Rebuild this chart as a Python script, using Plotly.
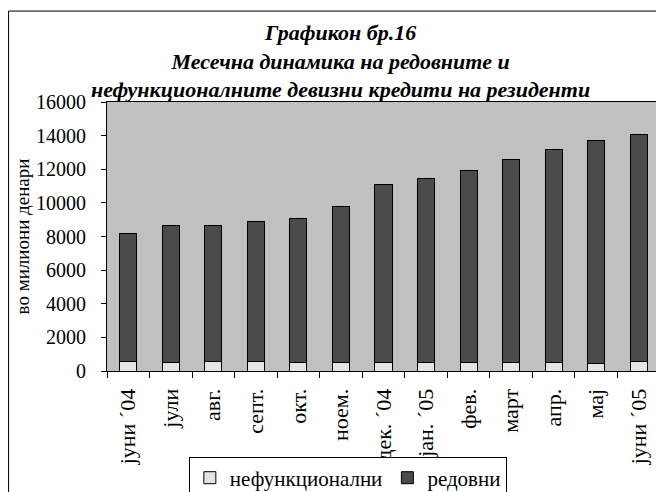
import plotly.graph_objects as go

# months (Macedonian labels as on the original chart)
months = ["јуни ´04", "јули", "авг.", "септ.", "окт.", "ноем.", "дек. ´04",
          "јан. ´05", "фев.", "март", "апр.", "мај", "јуни ´05"]

# millions of denars
nefunkcionalni = [540, 530, 540, 540, 530, 530, 520, 520, 530, 530, 530, 430, 540]
redovni = [7650, 8120, 8110, 8360, 8570, 9260, 10600, 10950, 11400, 12030, 12670, 13300, 13550]

title_text = ("Графикон бр.16<br>"
              "Месечна динамика на редовните и<br>"
              "нефункционалните девизни кредити на резиденти")
y_title = "во милиони денари"

serif = "Times New Roman, Liberation Serif, serif"

fig = go.Figure()
fig.add_trace(go.Bar(x=months, y=nefunkcionalni, name="нефункционални",
                     marker=dict(color="#E4E4E4", line=dict(color="black", width=1))))
fig.add_trace(go.Bar(x=months, y=redovni, name="редовни",
                     marker=dict(color="#4B4B4B", line=dict(color="black", width=1))))

# page body has an 8px margin, so the figure is 8px smaller than the window
fig.update_layout(
    width=656, height=484,
    margin=dict(l=99, r=4, t=94, b=121, autoexpand=False),
    barmode="stack", bargap=0.6,
    paper_bgcolor="white", plot_bgcolor="#C0C0C0",
    font=dict(family=serif, size=20, color="black"),
    legend=dict(orientation="h", traceorder="normal",
                x=0.148, xanchor="left", y=-0.318, yanchor="top",
                bordercolor="black", borderwidth=1, bgcolor="white",
                font=dict(size=21), itemwidth=30),
    showlegend=True,
)

# chart title, centred a bit right of the plot centre like the original
fig.add_annotation(text=title_text, xref="paper", yref="paper",
                   x=0.423, y=1.152, xanchor="center", yanchor="middle",
                   showarrow=False, align="center",
                   font=dict(family=serif, size=22, style="italic", weight="bold"))

# value axis title, placed by hand (plotly leaves too big a gap)
fig.add_annotation(text=y_title, xref="paper", yref="paper",
                   x=-0.152, y=0.5, xanchor="center", yanchor="middle",
                   textangle=-90, showarrow=False, font=dict(family=serif, size=19))

fig.update_xaxes(type="category", tickson="boundaries", ticks="outside", ticklen=6,
                 tickcolor="black", tickangle=-90, showline=True, linecolor="black",
                 mirror=True, showgrid=False, tickfont=dict(size=22), ticklabelstandoff=8)
fig.update_yaxes(range=[0, 16000], dtick=2000, tickformat="d", ticks="outside", ticklen=5,
                 tickcolor="black", showline=True, linecolor="black", mirror=True,
                 showgrid=False, zeroline=False, tickfont=dict(size=20), ticklabelstandoff=11)

# outer chart frame (Excel chart area border)
fig.add_shape(type="rect", xref="paper", yref="paper",
              x0=-0.178, x1=1.03, y0=-0.6, y1=1.338,
              line=dict(color="black", width=1), fillcolor="rgba(0,0,0,0)", layer="below")

fig.write_html("out.html")
